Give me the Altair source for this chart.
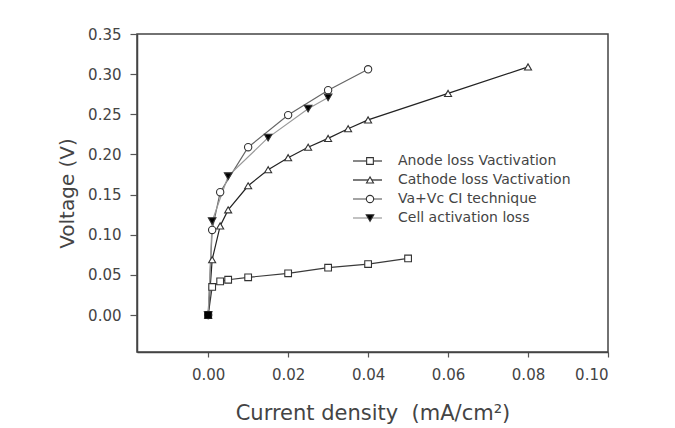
import altair as alt
import pandas as pd

series = ["Anode loss Vactivation", "Cathode loss Vactivation",
          "Va+Vc CI technique", "Cell activation loss"]

anode_x = [0, 0.001, 0.003, 0.005, 0.01, 0.02, 0.03, 0.04, 0.05]
anode_y = [0, 0.035, 0.042, 0.044, 0.047, 0.052, 0.059, 0.0635, 0.0705]
cath_x = [0, 0.001, 0.003, 0.005, 0.01, 0.015, 0.02, 0.025, 0.03, 0.035, 0.04, 0.06, 0.08]
cath_y = [0, 0.069, 0.111, 0.131, 0.161, 0.181, 0.196, 0.209, 0.220, 0.232, 0.243, 0.276, 0.309]
vavc_x = [0, 0.001, 0.003, 0.01, 0.02, 0.03, 0.04]
vavc_y = [0, 0.106, 0.153, 0.209, 0.249, 0.280, 0.306]
cell_x = [0, 0.001, 0.005, 0.015, 0.025, 0.03]
cell_y = [0, 0.117, 0.173, 0.221, 0.257, 0.271]

x_ticks = [0.0, 0.02, 0.04, 0.06, 0.08, 0.10]
y_ticks = [0.0, 0.05, 0.10, 0.15, 0.20, 0.25, 0.30, 0.35]

line_colors = ["#3a3a3a", "#222222", "#666666", "#999999"]
shapes = ["square", "triangle-up", "circle", "triangle-down"]
fills = ["white", "white", "white", "black"]
sizes = [45, 58, 40, 58]

rows = []
for name, xs, ys in zip(series, [anode_x, cath_x, vavc_x, cell_x],
                        [anode_y, cath_y, vavc_y, cell_y]):
    for i, (a, b) in enumerate(zip(xs, ys)):
        rows.append({"series": name, "x": a, "y": b, "idx": i})
df = pd.DataFrame(rows)

leg = pd.DataFrame({"series": series, "row": list(range(len(series)))})

FONT = "DejaVu Sans"

xscale = alt.Scale(domain=[-0.0178, 0.10], nice=False, zero=False)
yscale = alt.Scale(domain=[-0.046, 0.35], nice=False, zero=False)
color_scale = alt.Scale(domain=series, range=line_colors)
shape_scale = alt.Scale(domain=series, range=shapes)
fill_scale = alt.Scale(domain=series, range=fills)
size_scale = alt.Scale(domain=series, range=sizes)

X = alt.X("x:Q", scale=xscale,
          axis=alt.Axis(values=x_ticks, format=".2f",
                        title="Current density\u00a0\u00a0(mA/cm²)",
                        grid=False, tickSize=5, labelPadding=10, titlePadding=20,
                        titleFontSize=21))
Y = alt.Y("y:Q", scale=yscale,
          axis=alt.Axis(values=y_ticks, format=".2f", title="Voltage (V)",
                        grid=False, tickSize=7, labelPadding=9, titlePadding=10,
                        titleFontSize=20))
Y_noaxis = alt.Y("y:Q", scale=yscale, axis=None)

lines = alt.Chart(df).mark_line(strokeWidth=1.2).encode(
    x=X, y=Y,
    color=alt.Color("series:N", scale=color_scale, legend=None),
    detail="series:N",
    order="idx:Q",
)

points = alt.Chart(df).mark_point(strokeWidth=1.1, opacity=1, stroke="#333333").encode(
    x=alt.X("x:Q", scale=xscale),
    y=Y_noaxis,
    shape=alt.Shape("series:N", scale=shape_scale, legend=None),
    fill=alt.Fill("series:N", scale=fill_scale, legend=None),
    size=alt.Size("series:N", scale=size_scale, legend=None),
)

origin = alt.Chart(df).transform_filter(
    (alt.datum.idx == 0) & (alt.datum.series == series[0])
).mark_point(shape="square", filled=True, color="black", size=48, opacity=1).encode(
    x=alt.X("x:Q", scale=xscale),
    y=Y_noaxis,
)

ly = alt.Y("row:Q", scale=alt.Scale(domain=[0, 3], range=[127, 184]), axis=None)

leg_rule = alt.Chart(leg).mark_rule(strokeWidth=1.2).encode(
    x=alt.value(216), x2=alt.value(245), y=ly,
    color=alt.Color("series:N", scale=color_scale, legend=None),
)
leg_pt = alt.Chart(leg).mark_point(strokeWidth=1.1, opacity=1, stroke="#333333").encode(
    x=alt.value(233), y=ly,
    shape=alt.Shape("series:N", scale=shape_scale, legend=None),
    fill=alt.Fill("series:N", scale=fill_scale, legend=None),
    size=alt.Size("series:N", scale=size_scale, legend=None),
)
leg_txt = alt.Chart(leg).mark_text(align="left", baseline="middle", font=FONT,
                                   fontSize=14, color="#444444").encode(
    x=alt.value(261), y=ly, text="series:N",
)

chart = alt.layer(lines, points, origin, leg_rule, leg_pt, leg_txt).resolve_scale(
    y="independent"
).properties(
    width=471, height=318,
    autosize=alt.AutoSizeParams(type="none"),
    padding={"left": 137, "top": 34, "right": 67, "bottom": 76},
    background="white",
).configure_view(
    stroke="#444444", strokeWidth=1.5
).configure_axis(
    labelFont=FONT, labelFontSize=15, labelColor="#444444",
    titleFont=FONT, titleFontWeight="normal", titleColor="#444444",
    domainColor="#444444", domainWidth=1.5, tickColor="#555555", tickWidth=1.2,
)

chart.save("out.html", embed_options={"renderer": "svg", "actions": False})
